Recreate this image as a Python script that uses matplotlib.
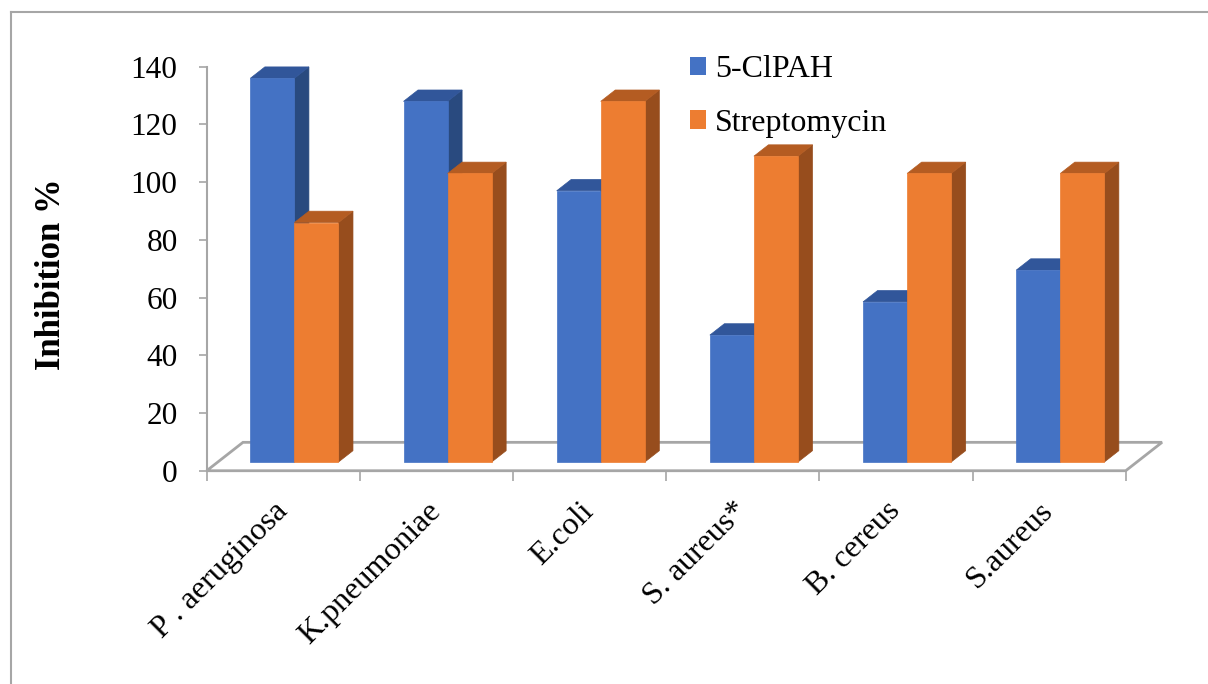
import matplotlib
matplotlib.use("Agg")
import matplotlib.pyplot as plt
from matplotlib.patches import Polygon, Patch

# inhibition (%) per organism
organisms = ["P . aeruginosa", "K.pneumoniae", "E.coli", "S. aureus*", "B. cereus", "S.aureus"]
clpah = [133, 125, 94, 44, 55.5, 66.5]
streptomycin = [83, 100, 125, 106, 100, 100]
series_names = ["5-ClPAH", "Streptomycin"]
yticks = [0, 20, 40, 60, 80, 100, 120, 140]

# face colours: front, top, side
blue = ("#4472C4", "#31569A", "#294A7F")
orange = ("#ED7D31", "#B45C22", "#974D1D")
grid_grey = "#A6A6A6"

# oblique depth of the floor in data units (x, y)
floor_dx, floor_dy = 0.237, 9.84
bar_depth = 0.40        # fraction of floor depth
bar_front = 0.306       # depth where the front faces sit
gap = 0.2125
width = 0.2876

plt.rcParams["font.family"] = ["Liberation Serif", "DejaVu Serif"]
fs = 23

fig = plt.figure(figsize=(12.08, 6.84), dpi=100)
ax = fig.add_axes([0.1711, 0.3118, 0.7608, 0.5906])
ax.set_xlim(0, 6)
ax.set_ylim(0, 140)

# floor outline
floor = Polygon([(0, 0), (6, 0), (6 + floor_dx, floor_dy), (floor_dx, floor_dy)],
                closed=True, facecolor="white", edgecolor=grid_grey, lw=2.0,
                clip_on=False, zorder=1)
ax.add_patch(floor)


def draw_box(x0, h, cols, z):
    ox = bar_front * floor_dx
    oy = bar_front * floor_dy
    ddx = bar_depth * floor_dx
    ddy = bar_depth * floor_dy
    x = x0 + ox
    x1 = x + width
    y0 = oy
    y1 = oy + h
    side = Polygon([(x1, y0), (x1 + ddx, y0 + ddy), (x1 + ddx, y1 + ddy), (x1, y1)],
                   closed=True, facecolor=cols[2], edgecolor=cols[2], lw=0.5,
                   clip_on=False, zorder=z)
    top = Polygon([(x, y1), (x1, y1), (x1 + ddx, y1 + ddy), (x + ddx, y1 + ddy)],
                  closed=True, facecolor=cols[1], edgecolor=cols[1], lw=0.5,
                  clip_on=False, zorder=z)
    ax.add_patch(side)
    ax.add_patch(top)
    ax.bar(x, h, width=width, bottom=y0, align="edge", color=cols[0],
           edgecolor=cols[0], lw=0.5, zorder=z + 0.1, clip_on=False)


z = 2
for i in range(len(organisms)):
    draw_box(i + gap, clpah[i], blue, z)
    z += 1
    draw_box(i + gap + width, streptomycin[i], orange, z)
    z += 1

# axes styling
for s in ["top", "right", "bottom"]:
    ax.spines[s].set_visible(False)
ax.spines["left"].set_color(grid_grey)
ax.spines["left"].set_linewidth(1.5)
ax.set_yticks(yticks)
ax.set_yticklabels([str(t) for t in yticks], fontsize=22.5)
ax.tick_params(axis="y", direction="out", length=6, width=1.2, color=grid_grey, pad=15)

ax.set_xticks(range(7))
ax.set_xticklabels([])
ax.tick_params(axis="x", which="major", direction="out", length=7, width=1.2, color=grid_grey)
ax.set_xticks([i + 0.5 for i in range(6)], minor=True)
ax.set_xticklabels(organisms, minor=True, fontsize=fs, rotation=45, ha="right",
                   va="center", rotation_mode="anchor")
ax.tick_params(axis="x", which="minor", length=0, pad=26)

fig.text(52 / 1208, 1 - 274 / 684, "Inhibition %", rotation=90, fontsize=25,
         fontweight="bold", ha="center", va="center")

handles = [Patch(facecolor=blue[0], edgecolor="none"),
           Patch(facecolor=orange[0], edgecolor="none")]
fig.legend(handles, series_names, loc="upper left", frameon=False, fontsize=fs,
           bbox_to_anchor=(690 / 1208, 1 - 55 / 684), borderpad=0, borderaxespad=0,
           handlelength=0.5, handleheight=0.5, handletextpad=0.28, labelspacing=0.78)

# outer frame
fig.add_artist(plt.Line2D([11 / 1208, 1], [1 - 12 / 684, 1 - 12 / 684],
                          transform=fig.transFigure, color="#A6A6A6", lw=1.5))
fig.add_artist(plt.Line2D([11 / 1208, 11 / 1208], [0, 1 - 12 / 684],
                          transform=fig.transFigure, color="#A6A6A6", lw=1.5))

fig.savefig("out.png", dpi=100)
